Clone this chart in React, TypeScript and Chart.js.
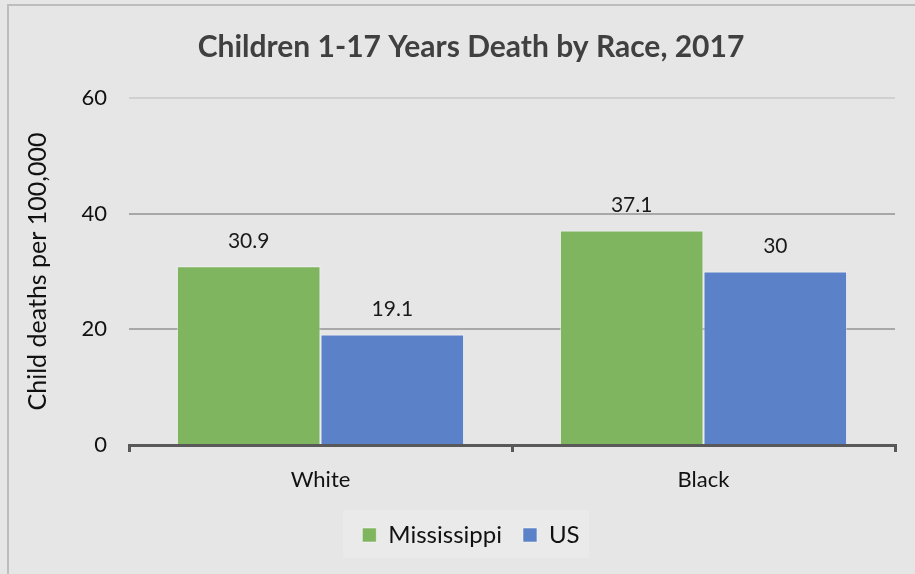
import React, { useEffect, useRef } from "react";
import { Chart, registerables } from "chart.js";

Chart.register(...registerables);

const categories = ["White", "Black"];
const mississippi = [30.9, 37.1];
const us = [19.1, 30];
const yTicks = [0, 20, 40, 60];
const titleText = "Children 1-17 Years Death by Race, 2017";
const yTitle = "Child deaths per 100,000";

const FONT = "Lato, 'Open Sans', sans-serif";

const bgPlugin = {
  id: "bg",
  beforeDraw(chart: any) {
    const { ctx, width, height } = chart;
    ctx.save();
    ctx.fillStyle = "#e6e6e6";
    ctx.fillRect(0, 0, width, height);
    ctx.strokeStyle = "#bdbdbd";
    ctx.lineWidth = 2;
    ctx.strokeRect(8, 5, width + 10, height + 10);
    // legend box
    ctx.fillStyle = "#eaeaea";
    ctx.fillRect(343, 510, 246, 48);
    ctx.restore();
  },
};

const labelPlugin = {
  id: "vals",
  afterDatasetsDraw(chart: any) {
    const { ctx } = chart;
    ctx.save();
    ctx.font = `21px ${FONT}`;
    ctx.fillStyle = "#1a1a1a";
    ctx.textAlign = "center";
    ctx.textBaseline = "middle";
    chart.data.datasets.forEach((ds: any, i: number) => {
      const meta = chart.getDatasetMeta(i);
      meta.data.forEach((bar: any, j: number) => {
        ctx.fillText(String(ds.data[j]), bar.x, bar.y - 25);
      });
    });
    ctx.restore();
  },
};

export default function App() {
  const ref = useRef<HTMLCanvasElement>(null);
  useEffect(() => {
    if (!ref.current) return;
    const chart = new Chart(ref.current, {
      type: "bar",
      data: {
        labels: categories,
        datasets: [
          {
            label: "Mississippi",
            data: mississippi,
            backgroundColor: "#80b55f",
            borderColor: "rgba(255,255,255,0.5)",
            borderWidth: 1,
            categoryPercentage: 0.75,
            barPercentage: 1,
          },
          {
            label: "US",
            data: us,
            backgroundColor: "#5b82c8",
            borderColor: "rgba(255,255,255,0.5)",
            borderWidth: 1,
            categoryPercentage: 0.75,
            barPercentage: 1,
          },
        ],
      },
      options: {
        animation: false,
        responsive: false,
        layout: { padding: { left: 10, right: 8, top: 10, bottom: 17 } },
        plugins: {
          title: {
            display: true,
            text: titleText,
            color: "#404040",
            font: { family: FONT, size: 30, weight: "bold" },
            padding: { top: 19, bottom: 33 },
          },
          legend: {
            position: "bottom",
            labels: {
              color: "#111",
              font: { family: FONT, size: 24 },
              boxWidth: 14,
              boxHeight: 14,
              padding: 21,
            },
          },
          tooltip: { enabled: false },
        },
        scales: {
          x: {
            offset: true,
            afterFit(scale: any) {
              scale.height = 57;
            },
            grid: {
              display: true,
              offset: true,
              drawOnChartArea: false,
              drawTicks: true,
              tickLength: 7,
              color: "#595959",
              lineWidth: 3,
            },
            border: { display: true, color: "#595959", width: 3 },
            ticks: {
              color: "#111",
              font: { family: FONT, size: 22 },
              padding: 15,
            },
          },
          y: {
            min: 0,
            max: 60,
            afterBuildTicks(scale: any) {
              scale.ticks = yTicks.map((v) => ({ value: v }));
            },
            afterFit(scale: any) {
              scale.width = 119;
            },
            grid: {
              drawTicks: false,
              color: (c: any) => (c.tick && c.tick.value === 60 ? "#d0d0d0" : "#a8a8a8"),
              lineWidth: 2,
            },
            border: { display: false },
            ticks: {
              color: "#111",
              font: { family: FONT, size: 22 },
              padding: 22,
            },
            title: {
              display: true,
              text: yTitle,
              color: "#111",
              font: { family: FONT, size: 25 },
              padding: { top: 13, bottom: 0 },
            },
          },
          yRight: {
            type: "linear",
            position: "right",
            min: 0,
            max: 60,
            afterFit(scale: any) {
              scale.width = 37;
            },
            grid: { display: false },
            border: { display: false },
            ticks: { display: false },
          },
        },
      },
      plugins: [bgPlugin, labelPlugin],
    });
    return () => chart.destroy();
  }, []);
  return (
    <div style={{ position: "absolute", left: 0, top: 0, width: 915, height: 574, overflow: "hidden" }}>
      <canvas ref={ref} width={940} height={574} style={{ display: "block" }} />
    </div>
  );
}
